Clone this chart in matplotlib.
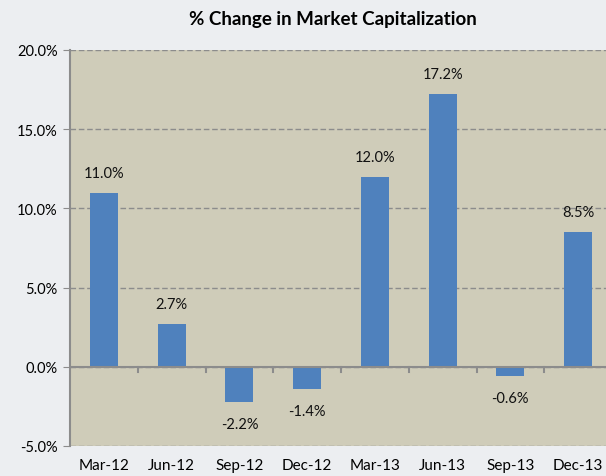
import matplotlib.pyplot as plt
import numpy as np

quarters = ["Mar-12", "Jun-12", "Sep-12", "Dec-12", "Mar-13", "Jun-13", "Sep-13", "Dec-13"]
change = [11.0, 2.7, -2.2, -1.4, 12.0, 17.2, -0.6, 8.5]
labels = ["11.0%", "2.7%", "-2.2%", "-1.4%", "12.0%", "17.2%", "-0.6%", "8.5%"]
yticks = [-5, 0, 5, 10, 15, 20]

plt.rcParams['font.family'] = ['Lato', 'DejaVu Sans']

fig = plt.figure(figsize=(6.06, 4.77), dpi=100)
fig.patch.set_facecolor('#eceef1')
# plot area runs a bit past the right edge, as in the source
ax = fig.add_axes([70/606, 30/477, 542/606, 396/477])
ax.set_facecolor('#cfccb9')

x = np.arange(len(quarters))
ax.bar(x, change, width=0.41, color='#4f81bd', zorder=3)

for xi, v, lab in zip(x, change, labels):
    off = 20 if v >= 0 else -22
    ax.annotate(lab, (xi, v), xytext=(0, off), textcoords='offset pixels',
                ha='center', va='center', fontsize=10.5, color='#111111')

ax.set_xlim(-0.5, 7.5)
ax.set_ylim(-5, 20)
ax.set_yticks(yticks)
ax.set_yticklabels([f"{t:.1f}%" for t in yticks], fontsize=10.5)
ax.yaxis.grid(True, linestyle=(0, (4, 2)), color='#8c8c8c', linewidth=1, zorder=1)
ax.tick_params(axis='y', length=5, color='#8c8c8c', pad=4)

# category ticks sit on the zero line
ax.set_xticks(x)
ax.set_xticklabels(quarters, fontsize=11)
ax.tick_params(axis='x', length=0, pad=9)
ax.axhline(0, color='#8c8c8c', linewidth=1.5, zorder=4)
for b in np.arange(0.5, 7.5, 1.0):
    ax.plot([b, b], [0, -0.35], color='#8c8c8c', linewidth=1.5, zorder=4, clip_on=False)

for s in ['top', 'right', 'bottom']:
    ax.spines[s].set_visible(False)
ax.spines['left'].set_color('#8c8c8c')
ax.spines['left'].set_linewidth(1.5)

fig.text(333/606, 1 - 20/477, "% Change in Market Capitalization", ha='center', va='center',
         fontsize=13.5, fontweight='bold')

fig.savefig('out.png', dpi=100, facecolor=fig.get_facecolor())
